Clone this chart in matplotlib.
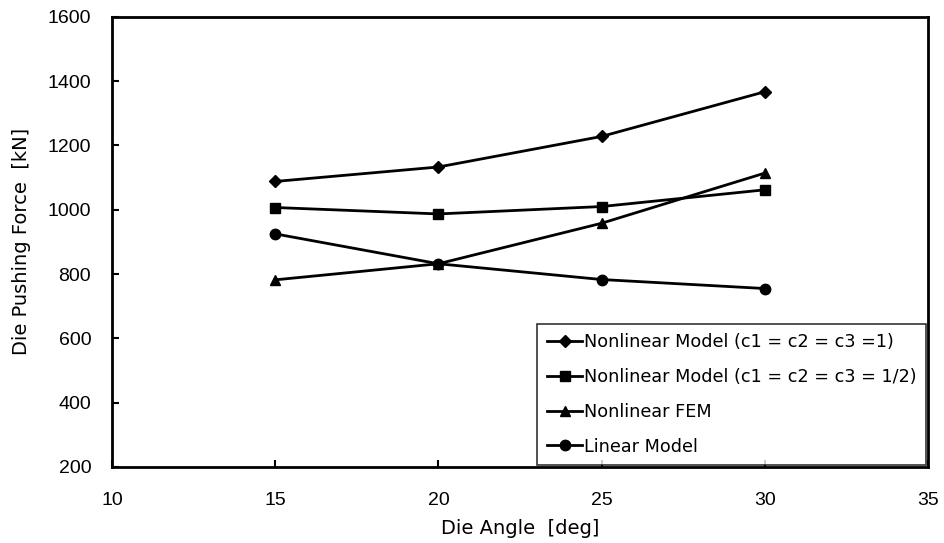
import matplotlib
matplotlib.use("Agg")
import matplotlib.pyplot as plt

# die angle [deg]
angles = [15, 20, 25, 30]

# die pushing force [kN]
nonlin_1 = [1088, 1133, 1228, 1367]
nonlin_half = [1007, 987, 1010, 1062]
nonlin_fem = [782, 832, 958, 1114]
linear = [925, 832, 783, 755]

labels = ["Nonlinear Model (c1 = c2 = c3 =1)",
          "Nonlinear Model (c1 = c2 = c3 = 1/2)",
          "Nonlinear FEM",
          "Linear Model"]
markers = ["D", "s", "^", "o"]

plt.rcParams['font.family'] = ['Liberation Sans', 'DejaVu Sans']

fig = plt.figure(figsize=(9.45, 5.43), dpi=100)
ax = fig.add_axes([0.1185, 0.140, 0.8635, 0.829])

for ys, lab, m in zip([nonlin_1, nonlin_half, nonlin_fem, linear], labels, markers):
    ms = 6 if m == "D" else 7.5
    ax.plot(angles, ys, color="black", lw=2.0, marker=m, markersize=ms, label=lab)

ax.set_xlim(10, 35)
ax.set_ylim(200, 1600)
ax.set_xticks([10, 15, 20, 25, 30, 35])
ax.set_yticks(range(200, 1601, 200))
ax.tick_params(direction="in", length=5, width=1.5, labelsize=14)
ax.tick_params(axis="x", pad=18)
ax.tick_params(axis="y", pad=15)
for s in ax.spines.values():
    s.set_linewidth(2)

ax.set_xlabel("Die Angle  [deg]", fontsize=14, family="DejaVu Sans", labelpad=7)
ax.set_ylabel("Die Pushing Force  [kN]", fontsize=14, family="DejaVu Sans", labelpad=12)

leg = ax.legend(loc="lower right", prop={"family": "DejaVu Sans", "size": 12.7},
                frameon=True, fancybox=False, edgecolor="black",
                handlelength=2.0, handletextpad=0.1,
                labelspacing=0.95, borderaxespad=0.1, borderpad=0.55)
leg.get_frame().set_linewidth(1.2)

fig.savefig("out.png", dpi=100)
